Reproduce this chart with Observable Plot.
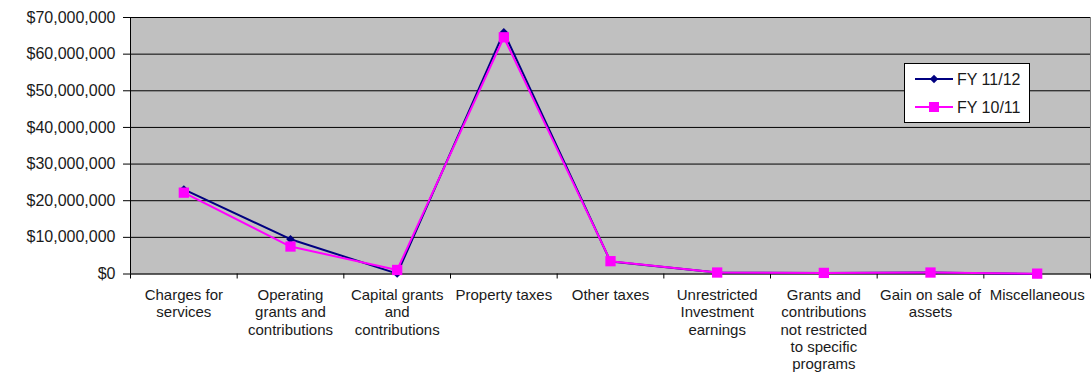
<!DOCTYPE html>
<html>
<head>
<meta charset="utf-8">
<script src="https://cdn.jsdelivr.net/npm/d3@7"></script>
<script src="https://cdn.jsdelivr.net/npm/@observablehq/plot@0.6"></script>
<style>
  html, body { margin: 0; padding: 0; background: #fff; }
  #wrap { position: relative; width: 1091px; height: 375px; font-family: "Liberation Sans", Arial, sans-serif; }
  #legend { position: absolute; left: 904px; top: 63px; width: 126px; height: 60px; box-sizing: border-box; background: #fff; border: 1px solid #000; }
</style>
</head>
<body>
<div id="wrap"><div id="legend"></div></div>
<script>
const categories = [
  "Charges for\nservices",
  "Operating\ngrants and\ncontributions",
  "Capital grants\nand\ncontributions",
  "Property taxes",
  "Other taxes",
  "Unrestricted\nInvestment\nearnings",
  "Grants and\ncontributions\nnot restricted\nto specific\nprograms",
  "Gain on sale of\nassets",
  "Miscellaneous"
];
const fy1112 = [23100000, 9500000, 100000, 66000000, 3400000, 400000, 300000, 400000, 0];
const fy1011 = [22200000, 7500000, 1100000, 64600000, 3500000, 400000, 300000, 400000, 100000];
const seriesNames = ["FY 11/12", "FY 10/11"];
const yTicks = [0, 10000000, 20000000, 30000000, 40000000, 50000000, 60000000, 70000000];

const colors = {"FY 11/12": "#000080", "FY 10/11": "#FF00FF"};
const rows = [];
categories.forEach((c, i) => {
  rows.push({i, series: "FY 11/12", value: fy1112[i]});
  rows.push({i, series: "FY 10/11", value: fy1011[i]});
});
const blue = rows.filter(d => d.series === "FY 11/12");
const pink = rows.filter(d => d.series === "FY 10/11");
const labels = categories.map((c, i) => ({i, label: c}));
const bounds = categories.map((c, i) => i - 0.5).concat([categories.length - 0.5]);

const chart = Plot.plot({
  width: 1091,
  height: 375,
  marginLeft: 130,
  marginRight: 1,
  marginTop: 17,
  marginBottom: 101.5,
  style: {fontFamily: "Liberation Sans, Arial, sans-serif", background: "transparent", overflow: "visible"},
  x: {type: "linear", domain: [-0.5, categories.length - 0.5]},
  y: {domain: [0, 70000000]},
  marks: [
    Plot.frame({fill: "#C0C0C0", stroke: "#808080"}),
    Plot.gridY(yTicks.filter(d => d > 0), {stroke: "#000", strokeOpacity: 1, strokeWidth: 1}),
    Plot.axisY(yTicks, {tickSize: 7, tickPadding: 8, stroke: "#000", fontSize: 16, fill: "#1a1a1a", tickFormat: d3.format("$,.0f"), label: null}),
    Plot.axisX(bounds, {tickSize: 5, stroke: "#000", tickFormat: () => "", label: null}),
    Plot.ruleY([0], {stroke: "#000", strokeWidth: 1}),
    Plot.ruleX([-0.5], {stroke: "#000", strokeWidth: 1}),
    Plot.text(labels, {x: "i", text: "label", frameAnchor: "bottom", lineAnchor: "top", dy: 14, fontSize: 15, lineHeight: 1.15, fill: "#1a1a1a"}),
    Plot.line(blue, {x: "i", y: "value", stroke: colors["FY 11/12"], strokeWidth: 2}),
    Plot.dot(blue, {x: "i", y: "value", symbol: "diamond2", r: 3.8, fill: colors["FY 11/12"], stroke: "none"}),
    Plot.line(pink, {x: "i", y: "value", stroke: colors["FY 10/11"], strokeWidth: 2}),
    Plot.dot(pink, {x: "i", y: "value", symbol: "square", r: 5.8, fill: colors["FY 10/11"], stroke: "none"})
  ]
});
document.getElementById("wrap").insertBefore(chart, document.getElementById("legend"));

// legend
const lg = d3.select("#legend").append("svg").attr("width", 124).attr("height", 58)
  .style("font-family", "Liberation Sans, Arial, sans-serif");
seriesNames.forEach((name, k) => {
  const y = k === 0 ? 15 : 43;
  const g = lg.append("g");
  g.append("line").attr("x1", 10).attr("x2", 48).attr("y1", y).attr("y2", y)
    .attr("stroke", colors[name]).attr("stroke-width", 2);
  if (k === 0) {
    g.append("path").attr("d", d3.symbol(d3.symbolDiamond2, 3.8 * 3.8 * Math.PI)())
      .attr("transform", `translate(29,${y})`).attr("fill", colors[name]);
  } else {
    g.append("rect").attr("x", 24).attr("y", y - 5).attr("width", 10).attr("height", 10)
      .attr("fill", colors[name]);
  }
  g.append("text").attr("x", 52).attr("y", y).attr("dy", "0.35em")
    .attr("font-size", 16).attr("fill", "#1a1a1a").text(name);
});
</script>
</body>
</html>
